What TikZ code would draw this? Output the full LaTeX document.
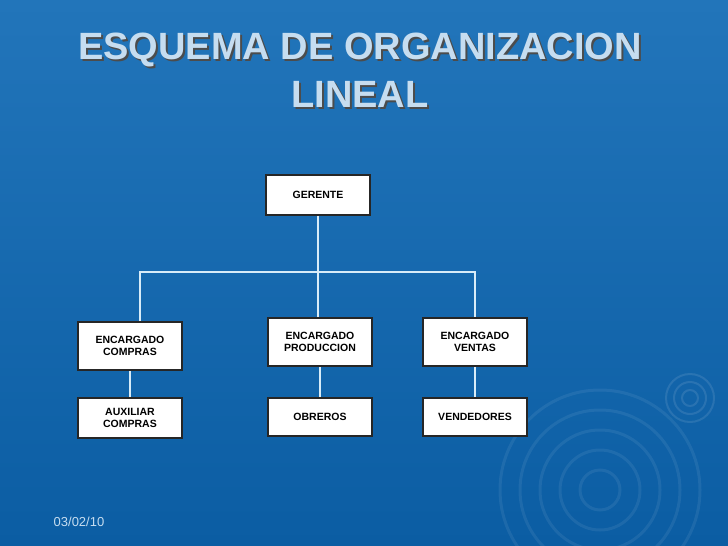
\documentclass[tikz,border=0pt]{standalone}
\usepackage{fontspec}
\setmainfont{Liberation Sans}
\usetikzlibrary{positioning,shadows}
\definecolor{fondo}{HTML}{0B5DA3}
\definecolor{fondoalto}{HTML}{2275BA}
\definecolor{titulo}{HTML}{C6DDF0}
\definecolor{linea}{HTML}{D8ECF8}
\tikzset{
  cargo/.style={rectangle, draw=black!85, line width=1.6pt, fill=white,
    minimum width=104pt, font=\fontsize{10.5}{12.5}\selectfont\bfseries, align=center},
  conector/.style={draw=linea, line width=1.6pt},
}
\begin{document}
\begin{tikzpicture}[x=1pt,y=-1pt]
  \shade[top color=fondoalto, bottom color=fondo] (0,0) rectangle (728,546);
  \useasboundingbox (0,0) rectangle (728,546);
  % adornos
  \foreach \r in {20,40,60,80,100}
    \draw[white, opacity=0.07, line width=3pt] (600,490) circle (\r);
  \foreach \r in {8,16,24}
    \draw[white, opacity=0.1, line width=2pt] (690,398) circle (\r);

  \node[font=\fontsize{38}{48}\selectfont\bfseries, text=black!70, align=center,
    text depth=0pt] at (362,72) {ESQUEMA DE ORGANIZACION\\LINEAL};
  \node[font=\fontsize{38}{48}\selectfont\bfseries, text=titulo, align=center,
    text depth=0pt] (tit) at (360,70) {ESQUEMA DE ORGANIZACION\\LINEAL};

  \node[cargo, minimum height=40pt] (ger) at (318,195) {GERENTE};

  \node[cargo, minimum height=48pt] (comp) at (130,346) {ENCARGADO\\COMPRAS};
  \node[cargo, minimum height=48pt] (prod) at (320,342) {ENCARGADO\\PRODUCCION};
  \node[cargo, minimum height=48pt] (vent) at (475,342) {ENCARGADO\\VENTAS};

  \node[cargo, minimum height=40pt] (aux) at (130,418) {AUXILIAR\\COMPRAS};
  \node[cargo, minimum height=38pt] (obr) at (320,417) {OBREROS};
  \node[cargo, minimum height=38pt] (vend) at (475,417) {VENDEDORES};

  \coordinate (rama) at (318,272);
  \draw[conector] (ger) -- (rama);
  \draw[conector] (comp.north -| 140,0) |- (rama) -| (vent.north);
  \draw[conector] (rama) -- (prod.north -| rama);
  \draw[conector] (comp) -- (aux);
  \draw[conector] (prod) -- (obr);
  \draw[conector] (vent) -- (vend);

  \node[font=\fontsize{13}{15}\selectfont, text=titulo] (fecha) at (79,522) {03/02/10};
\end{tikzpicture}
\end{document}
